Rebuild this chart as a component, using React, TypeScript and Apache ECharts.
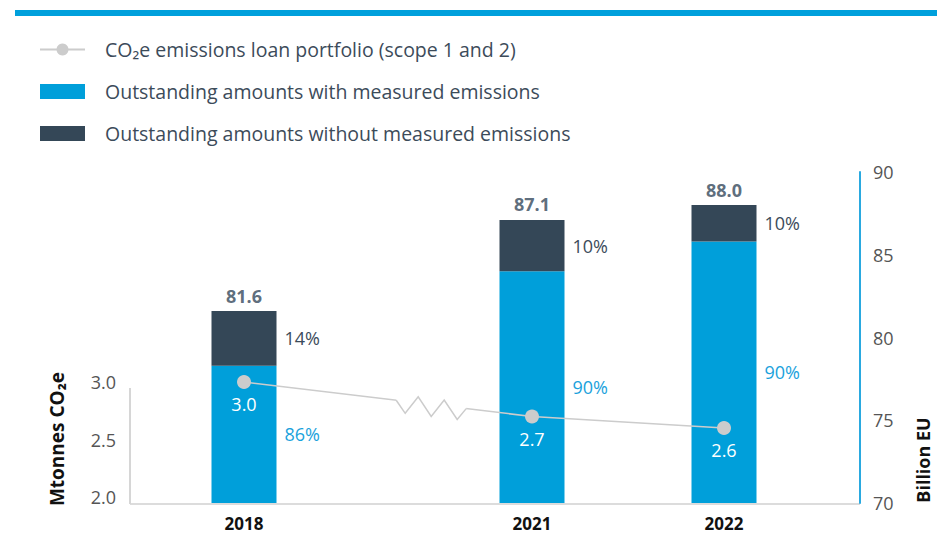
import React, { useEffect, useRef } from 'react';
import * as echarts from 'echarts';

// ---- data ----
const years = ['2018', '2021', '2022'];
// position of each year on the compressed time axis (2019 and 2020 are skipped)
const yearSlot = [0, 3, 5];
const slotCount = 6;

const totalOutstanding = [81.6, 87.1, 88.0]; // billion EU (printed on top of bars)
const measuredTop = [78.3, 84.0, 85.8]; // drawn top of the "measured" segment, billion EU
const measuredPct = ['86%', '90%', '90%'];
const unmeasuredPct = ['14%', '10%', '10%'];
const co2Emissions = [3.0, 2.7, 2.6]; // Mtonnes CO2e

const leftTicks = { min: 2, max: 3, step: 0.5 };
const rightTicks = { min: 70, max: 90, step: 5 };

const seriesNames = [
  'CO₂e emissions loan portfolio (scope 1 and 2)',
  'Outstanding amounts with measured emissions',
  'Outstanding amounts without measured emissions',
];
const leftAxisName = 'Mtonnes CO₂e';
const rightAxisName = 'Billion EU';

// ---- styles ----
const FONT = '"Open Sans", "Noto Sans", sans-serif';
const BLUE = '#009fda';
const DARK = '#344757';
const TEXT_DARK = '#3c4b5a';
const GREY_LINE = '#cccccc';

const slotArr = (vals: (number | string)[]) => {
  const a: (number | string)[] = Array(slotCount).fill('-');
  vals.forEach((v, i) => {
    a[yearSlot[i]] = v;
  });
  return a;
};
const categories: string[] = Array(slotCount).fill('');
years.forEach((y, i) => {
  categories[yearSlot[i]] = y;
});
const slotToYear: Record<number, number> = {};
yearSlot.forEach((s, i) => {
  slotToYear[s] = i;
});

export default function App() {
  const ref = useRef<HTMLDivElement>(null);

  useEffect(() => {
    document.body.style.margin = '0';
    if (!ref.current) return;
    const chart = echarts.init(ref.current, null, { renderer: 'svg' });

    const unmeasured = totalOutstanding.map((t, i) => +(t - measuredTop[i]).toFixed(2));

    const option: any = {
      animation: false,
      backgroundColor: '#ffffff',
      textStyle: { fontFamily: FONT },
      legend: {
        orient: 'vertical',
        left: 34,
        top: 34,
        itemWidth: 45,
        itemHeight: 15,
        itemGap: 21,
        selectedMode: false,
        data: [
          { name: seriesNames[0] },
          { name: seriesNames[1], icon: 'rect' },
          { name: seriesNames[2], icon: 'rect' },
        ],
        textStyle: {
          fontFamily: FONT,
          fontSize: 19.5,
          color: TEXT_DARK,
          lineHeight: 21,
          padding: [0, 0, 0, 15],
        },
      },
      grid: [
        { left: 196, width: 576, top: 172, height: 331 },
        { left: 196, width: 576, top: 382, height: 115 },
      ],
      xAxis: [
        {
          gridIndex: 0,
          type: 'category',
          data: categories,
          boundaryGap: true,
          axisLine: { show: false },
          axisTick: { show: false },
          axisLabel: {
            interval: 0,
            margin: 12,
            fontFamily: FONT,
            fontWeight: 'bold',
            fontSize: 17,
            color: '#111111',
          },
        },
        { gridIndex: 1, type: 'category', data: categories, boundaryGap: true, show: false },
      ],
      yAxis: [
        {
          gridIndex: 0,
          type: 'value',
          position: 'right',
          offset: 88,
          min: rightTicks.min,
          max: rightTicks.max,
          interval: rightTicks.step,
          splitLine: { show: false },
          axisTick: { show: false },
          axisLine: { show: true, lineStyle: { color: '#2aa9e0', width: 2 } },
          axisLabel: { margin: 13, fontFamily: FONT, fontSize: 18, color: '#555555' },
        },
        {
          gridIndex: 1,
          type: 'value',
          position: 'left',
          offset: 66,
          min: leftTicks.min,
          max: leftTicks.max,
          interval: leftTicks.step,
          splitLine: { show: false },
          axisTick: { show: false },
          axisLine: { show: false },
          axisLabel: {
            margin: 14,
            fontFamily: FONT,
            fontSize: 18,
            color: '#555555',
            formatter: (v: number) => v.toFixed(1),
          },
        },
      ],
      graphic: [
        { type: 'rect', shape: { x: 15, y: 10, width: 922, height: 6 }, style: { fill: '#00a0dc' } },
        {
          type: 'line',
          shape: { x1: 130, y1: 504, x2: 860, y2: 504 },
          style: { stroke: '#dcdcdc', lineWidth: 2 },
          z: 0,
        },
        {
          type: 'line',
          shape: { x1: 130, y1: 388, x2: 130, y2: 504 },
          style: { stroke: '#d6d6d6', lineWidth: 2 },
          z: 0,
        },
        {
          type: 'text',
          x: 57,
          y: 439,
          rotation: Math.PI / 2,
          style: {
            text: leftAxisName,
            fontFamily: FONT,
            fontSize: 19,
            fontWeight: 'bold',
            fill: '#111111',
            align: 'center',
            verticalAlign: 'middle',
          },
        },
        {
          type: 'text',
          x: 923,
          y: 460,
          rotation: Math.PI / 2,
          style: {
            text: rightAxisName,
            fontFamily: FONT,
            fontSize: 18,
            fontWeight: 'bold',
            fill: '#111111',
            align: 'center',
            verticalAlign: 'middle',
          },
        },
      ],
      series: [
        {
          name: seriesNames[1],
          type: 'bar',
          stack: 'amount',
          xAxisIndex: 0,
          yAxisIndex: 0,
          barWidth: 65,
          itemStyle: { color: BLUE },
          data: slotArr(measuredTop),
          label: {
            show: true,
            position: 'right',
            distance: 8,
            fontFamily: FONT,
            fontSize: 18,
            color: '#1aa2dc',
            formatter: (p: any) => measuredPct[slotToYear[p.dataIndex]],
          },
        },
        {
          name: seriesNames[2],
          type: 'bar',
          stack: 'amount',
          xAxisIndex: 0,
          yAxisIndex: 0,
          barWidth: 65,
          itemStyle: { color: DARK },
          data: slotArr(unmeasured),
          label: {
            show: true,
            position: 'right',
            distance: 8,
            fontFamily: FONT,
            fontSize: 18,
            color: TEXT_DARK,
            formatter: (p: any) => unmeasuredPct[slotToYear[p.dataIndex]],
          },
        },
        {
          name: 'Total outstanding',
          type: 'scatter',
          xAxisIndex: 0,
          yAxisIndex: 0,
          symbol: 'circle',
          symbolSize: 1,
          itemStyle: { color: 'rgba(0,0,0,0)' },
          data: slotArr(totalOutstanding),
          label: {
            show: true,
            position: 'top',
            distance: 6,
            fontFamily: FONT,
            fontSize: 18,
            fontWeight: 'bold',
            color: '#34475a',
            formatter: (p: any) => totalOutstanding[slotToYear[p.dataIndex]].toFixed(1),
          },
          z: 3,
        },
        {
          name: seriesNames[0],
          type: 'line',
          xAxisIndex: 1,
          yAxisIndex: 1,
          connectNulls: true,
          symbol: 'circle',
          symbolSize: 14,
          itemStyle: { color: GREY_LINE },
          lineStyle: { color: GREY_LINE, width: 1.5 },
          data: slotArr(co2Emissions),
          label: {
            show: true,
            position: 'bottom',
            distance: 6,
            fontFamily: FONT,
            fontSize: 18,
            color: '#ffffff',
            formatter: (p: any) => Number(p.value).toFixed(1),
          },
          z: 3,
        },
        {
          name: 'break',
          type: 'custom',
          xAxisIndex: 1,
          yAxisIndex: 1,
          silent: true,
          z: 4,
          encode: { x: [0, 2], y: [1, 3] },
          data: [[yearSlot[0], co2Emissions[0], yearSlot[1], co2Emissions[1]]],
          renderItem: (_params: any, api: any) => {
            const a = api.coord([api.value(0), api.value(1)]);
            const b = api.coord([api.value(2), api.value(3)]);
            const slope = (b[1] - a[1]) / (b[0] - a[0]);
            const cx = a[0] + (b[0] - a[0]) * 0.65;
            const pattern = [
              [-35, 0],
              [-26, 12],
              [-13, -6],
              [0, 12],
              [13, -6],
              [26, 12],
              [35, 0],
            ];
            const pts = pattern.map(([dx, dy]) => [cx + dx, a[1] + (cx + dx - a[0]) * slope + dy]);
            return {
              type: 'group',
              children: [
                {
                  type: 'polyline',
                  shape: { points: [pts[0], pts[pts.length - 1]] },
                  style: { stroke: '#ffffff', lineWidth: 5, fill: null },
                },
                {
                  type: 'polyline',
                  shape: { points: pts },
                  style: { stroke: GREY_LINE, lineWidth: 1.5, fill: null },
                },
              ],
            };
          },
        },
      ],
    };

    chart.setOption(option);
    return () => {
      chart.dispose();
    };
  }, []);

  return <div ref={ref} style={{ width: 937, height: 557 }} />;
}
